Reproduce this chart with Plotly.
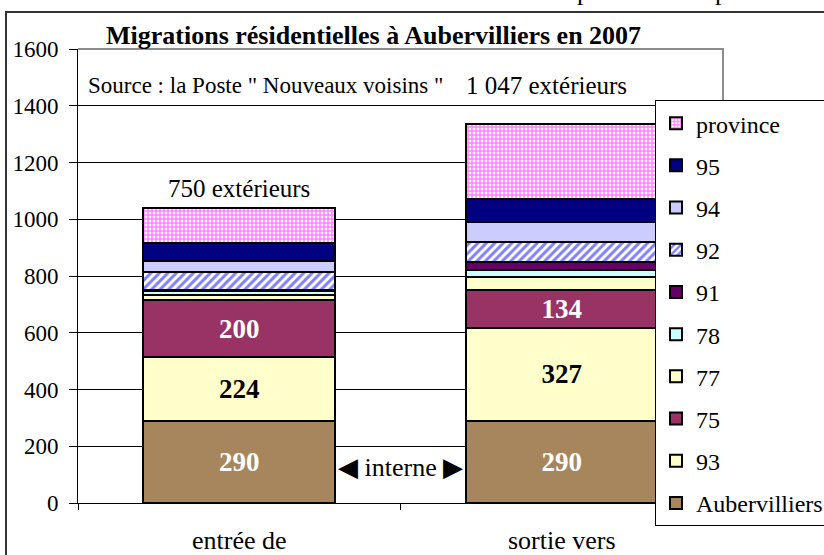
import plotly.graph_objects as go

categories = ["entrée de", "sortie vers"]
series_names = ["Aubervilliers", "93", "75", "77", "78", "91", "92", "94", "95", "province"]
aubervilliers = [290, 290]
d93 = [224, 327]
d75 = [200, 134]
d77 = [20, 44]
d78 = [12, 27]
d91 = [6, 28]
d92 = [62, 70]
d94 = [40, 70]
d95 = [64, 82]
province = [122, 265]
values = [aubervilliers, d93, d75, d77, d78, d91, d92, d94, d95, province]
labels = {"Aubervilliers": (["290", "290"], "white"),
          "93": (["224", "327"], "black"),
          "75": (["200", "134"], "white")}
y_ticks = [0, 200, 400, 600, 800, 1000, 1200, 1400, 1600]

colors = {"Aubervilliers": "#A7865E", "93": "#FFFFCC", "75": "#993366", "77": "#FFFFCC",
          "78": "#CCFFFF", "91": "#660066", "92": "#FFFFFF", "94": "#CCCCFF",
          "95": "#000080", "province": "#FFFFFF"}

SERIF = "Liberation Serif"
fig = go.Figure()
n = len(series_names)
for i, (name, vals) in enumerate(zip(series_names, values)):
    marker = dict(color=colors[name], line=dict(color="black", width=2))
    if name == "92":
        marker["pattern"] = dict(shape="/", fgcolor="#0000FF", bgcolor="white", size=6, solidity=0.5)
    if name == "province":
        marker["pattern"] = dict(shape="+", fgcolor="#FF00FF", bgcolor="white", size=4, solidity=0.6)
    kw = {}
    if name in labels:
        txt, col = labels[name]
        kw = dict(text=txt, texttemplate="<b>%{text}</b>", textposition="inside",
                  insidetextanchor="middle", textangle=0,
                  textfont=dict(family=SERIF, size=27, color=col))
    fig.add_trace(go.Bar(x=categories, y=vals, name=name, marker=marker, width=0.595,
                         legendgroup=name, legendrank=n - i, hoverinfo="skip", **kw))

fig.update_layout(
    width=824, height=555,
    margin=dict(l=78, r=101, t=49, b=52.4, autoexpand=False),
    barmode="stack",
    plot_bgcolor="white", paper_bgcolor="white",
    font=dict(family=SERIF, color="black"),
    showlegend=True,
    legend=dict(x=(655 - 78) / 645, y=(502.6 - 100) / 453.6, xanchor="left", yanchor="top",
                traceorder="grouped", tracegroupgap=8, bgcolor="white",
                bordercolor="black", borderwidth=1, font=dict(family=SERIF, size=24, color="black")),
    xaxis=dict(range=[-0.5, 1.5], showline=True, linecolor="black", linewidth=1,
               ticks="outside", tickson="boundaries", ticklen=6, tickcolor="black",
               tickfont=dict(family=SERIF, size=26, color="black"), ticklabelstandoff=14,
               showgrid=False, fixedrange=True),
    yaxis=dict(range=[0, 1600], tickvals=y_ticks, showline=True, linecolor="black", linewidth=1,
               ticks="outside", ticklen=8, tickcolor="black", showgrid=True,
               gridcolor="black", gridwidth=1, zeroline=False, ticklabelstandoff=6,
               tickfont=dict(family=SERIF, size=23, color="black"), fixedrange=True),
)

# plot area border (top and right, grey)
fig.add_shape(type="path", xref="paper", yref="paper", path="M 0 1 L 1 1 L 1 0",
              line=dict(color="#8C8C8C", width=2), layer="above")
# outer chart border
fig.add_shape(type="rect", xref="paper", yref="paper",
              x0=(6 - 78) / 645, x1=(840 - 78) / 645,
              y0=(502.6 - 570) / 453.6, y1=(502.6 - 12) / 453.6,
              line=dict(color="#333333", width=2), fillcolor="rgba(0,0,0,0)", layer="above")

fig.add_annotation(text="<b>Migrations résidentielles à Aubervilliers en 2007</b>",
                   xref="paper", yref="paper", x=(104 - 78) / 645, y=(502.6 - 36) / 453.6,
                   xanchor="left", yanchor="middle", showarrow=False,
                   font=dict(family=SERIF, size=26, color="black"))
fig.add_annotation(text='Source : la Poste " Nouveaux voisins "',
                   xref="paper", yref="paper", x=(86 - 78) / 645, y=(502.6 - 85) / 453.6,
                   xanchor="left", yanchor="middle", showarrow=False,
                   font=dict(family=SERIF, size=23, color="black"))
fig.add_annotation(text="1 047 extérieurs", xref="paper", yref="y",
                   x=(546 - 78) / 645, y=1473, xanchor="center", yanchor="middle",
                   showarrow=False, font=dict(family=SERIF, size=25, color="black"))
fig.add_annotation(text="750 extérieurs", x=0, y=1108, xref="x", yref="y",
                   xanchor="center", yanchor="middle", showarrow=False,
                   font=dict(family=SERIF, size=25, color="black"))
fig.add_annotation(text="◀ interne ▶", x=0.5, y=125, xref="x", yref="y",
                   xanchor="center", yanchor="middle", showarrow=False,
                   font=dict(family=SERIF, size=26, color="black"))
# cut-off letters of the surrounding page at the very top
for px in [583, 721]:
    fig.add_annotation(text="p", xref="paper", yref="paper", x=(px - 78) / 645,
                       y=(502.6 + 8) / 453.6, xanchor="center", yanchor="middle",
                       showarrow=False, font=dict(family=SERIF, size=26, color="black"))

fig.write_html("out.html", config={"displayModeBar": False},
               post_script="document.body.style.margin='0';")
